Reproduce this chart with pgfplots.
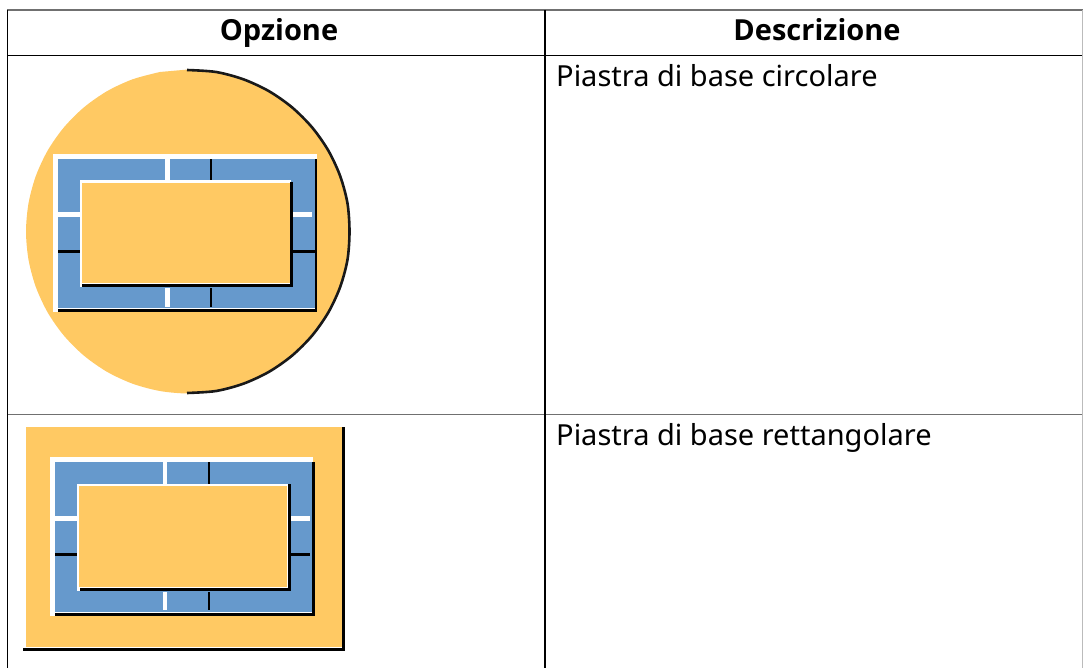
\documentclass[border=0pt]{standalone}
\usepackage{pgfplots}
\pgfplotsset{compat=1.18}
\usepackage{fontspec}
\setmainfont{Noto Sans}
\newfontfamily\hb{Open Sans}
\definecolor{org}{HTML}{FFC963}
\definecolor{blu}{HTML}{6699CC}
\definecolor{grl}{HTML}{707070}
\definecolor{grr}{HTML}{BBBBBB}
\newcommand{\R}[5]{\addplot[fill=#5,draw=none] coordinates {(#1,#2)(#3,#2)(#3,#4)(#1,#4)} --cycle;}
\newcommand{\Ln}[5]{\addplot[draw=#5,line width=1.5pt] coordinates {(#1,#2)(#3,#4)};}
\begin{document}
\begin{tikzpicture}
\begin{axis}[x=1pt,y=1pt,y dir=reverse,xmin=0,xmax=1083,ymin=0,ymax=668,axis lines=none,no markers,clip=true]
\R{0}{0}{1083}{668}{white}
% table rules
\R{7}{9}{1083}{11}{grl}
\Ln{7}{55.3}{1083}{55.3}{black}
\Ln{7}{414.5}{1083}{414.5}{grl}
\Ln{7.5}{10}{7.5}{668}{black}
\Ln{545.1}{10}{545.1}{668}{black}
\Ln{1082.3}{10}{1082.3}{668}{grr}
% circular plate
\addplot[fill=org,draw=none,smooth] coordinates {(188,69.5)(216.1,72)(243.4,79.3)(269,91.2)(292.1,107.4)(312.1,127.4)(328.3,150.5)(340.2,176.1)(347.5,203.4)(350,231.5)(347.5,259.6)(340.2,286.9)(328.3,312.5)(312.1,335.6)(292.1,355.6)(269,371.8)(243.4,383.7)(216.1,391)(188,393.5)(159.9,391)(132.6,383.7)(107,371.8)(83.9,355.6)(63.9,335.6)(47.7,312.5)(35.8,286.9)(28.5,259.6)(26,231.5)(28.5,203.4)(35.8,176.1)(47.7,150.5)(63.9,127.4)(83.9,107.4)(107,91.2)(132.6,79.3)(159.9,72)} --cycle;
\addplot[draw=black!90,line width=2.6pt,smooth] coordinates {(187,70)(216.1,72)(243.4,79.3)(269,91.2)(292.1,107.4)(312.1,127.4)(328.3,150.5)(340.2,176.1)(347.5,203.4)(349.5,231.5)(347.5,259.6)(340.2,286.9)(328.3,312.5)(312.1,335.6)(292.1,355.6)(269,371.8)(243.4,383.7)(216.1,391)(187,393)};
\R{53.3}{154}{317}{312}{white}
\R{58.3}{159}{315}{308}{blu}
\R{314.5}{159}{317.2}{311.5}{black}
\R{58.3}{308.5}{317.2}{311.5}{black}
\R{165.2}{159}{170.2}{181}{white}
\R{165.2}{288}{170.2}{307}{white}
\R{209.7}{159}{212.3}{181}{black}
\R{209.7}{288}{212.3}{307}{black}
\R{58.3}{212.5}{80}{217.5}{white}
\R{293}{212.5}{311.7}{217.5}{white}
\R{58.3}{250}{80}{252.6}{black}
\R{293}{250}{315}{252.6}{black}
\R{79.5}{180.5}{291}{287}{white}
\R{81.7}{182.7}{290}{283}{org}
\R{289.7}{182}{292.9}{287}{black}
\R{82}{283.5}{292.9}{287}{black}
% rectangular plate
\R{26}{427.3}{342}{646.5}{org}
\R{341.8}{427.3}{345}{651}{black}
\R{23}{647.8}{345}{651}{black}
\R{50}{457.3}{312.7}{615.7}{white}
\R{55}{462.3}{312.7}{612}{blu}
\R{312.2}{462.3}{315.2}{616}{black}
\R{55}{612.8}{315.2}{616}{black}
\R{162.7}{462.3}{167.4}{484}{white}
\R{162.7}{591.5}{167.4}{610}{white}
\R{207.6}{462.3}{210.4}{484}{black}
\R{207.6}{591.5}{210.4}{610}{black}
\R{55}{516.2}{77}{521.2}{white}
\R{291}{516.2}{310}{521.2}{white}
\R{55}{553.3}{77}{556.1}{black}
\R{291}{553.3}{310}{556.1}{black}
\R{77.3}{484}{287.5}{591}{white}
\R{79.3}{486}{287}{587}{org}
\R{287.7}{484}{291}{591}{black}
\R{80}{587.7}{291}{591}{black}
% text
\node[anchor=base,font=\fontsize{29}{34}\selectfont\hb\bfseries,inner sep=0pt] at (axis cs:279,40.3) {Opzione};
\node[anchor=base,font=\fontsize{29}{34}\selectfont\hb\bfseries,inner sep=0pt] at (axis cs:817,40.3) {Descrizione};
\node[anchor=base west,font=\fontsize{29}{34}\selectfont,inner sep=0pt] at (axis cs:556,86.8) {Piastra di base circolare};
\node[anchor=base west,font=\fontsize{29}{34}\selectfont,inner sep=0pt] at (axis cs:556,445) {Piastra di base rettangolare};
\end{axis}
\end{tikzpicture}
\end{document}
